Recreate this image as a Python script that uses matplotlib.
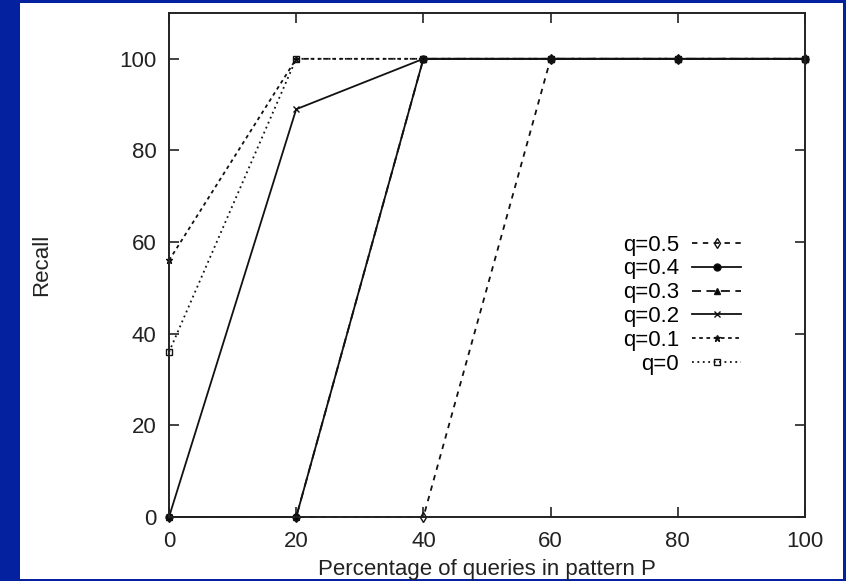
import matplotlib
matplotlib.use("Agg")
import matplotlib.pyplot as plt

# data
pct = [0, 20, 40, 60, 80, 100]
recall_q05 = [0, 0, 0, 100, 100, 100]
recall_q04 = [0, 0, 100, 100, 100, 100]
recall_q03 = [0, 0, 100, 100, 100, 100]
recall_q02 = [0, 89, 100, 100, 100, 100]
recall_q01 = [56, 100, 100, 100, 100, 100]
recall_q0 = [36, 100, 100, 100, 100, 100]

labels = ['q=0.5', 'q=0.4', 'q=0.3', 'q=0.2', 'q=0.1', 'q=0']
series = [recall_q05, recall_q04, recall_q03, recall_q02, recall_q01, recall_q0]
styles = [
    ((0, (3, 3)), 'd', 'none'),
    ('-', 'o', 'k'),
    ((0, (5, 3)), '^', 'k'),
    ('-', 'x', 'k'),
    ((0, (2, 2)), '*', 'k'),
    ((0, (1, 2)), 's', 'none'),
]

plt.rcParams['font.family'] = ['Liberation Sans', 'DejaVu Sans']

fig = plt.figure(figsize=(8.46, 5.81), dpi=100)
fig.patch.set_facecolor('#0422a0')
# white slide panel behind the plot
bg = fig.add_axes([20 / 846, 2 / 581, 823 / 846, 576 / 581], zorder=-5)
bg.set_facecolor('white')
bg.set_xticks([])
bg.set_yticks([])
for s in bg.spines.values():
    s.set_visible(False)

ax = fig.add_axes([169 / 846, 1 - 517 / 581, 636 / 846, 504 / 581])
ax.set_facecolor('white')

for vals, lab, (ls, mk, mfc) in zip(series, labels, styles):
    ax.plot(pct, vals, color='#111111', linestyle=ls, linewidth=1.3,
            marker=mk, markersize=5, markerfacecolor=mfc,
            markeredgecolor='#111111', markeredgewidth=1.0, label=lab,
            clip_on=False)

ax.set_xlim(0, 100)
ax.set_ylim(0, 110)
ax.set_xticks([0, 20, 40, 60, 80, 100])
ax.set_yticks([0, 20, 40, 60, 80, 100])
ax.tick_params(direction='in', length=7, width=1.2, labelsize=16,
               top=True, right=True, colors='#222222')
ax.tick_params(axis='y', pad=9)
ax.tick_params(axis='x', pad=10)
for s in ax.spines.values():
    s.set_linewidth(1.4)
    s.set_color('#222222')

ax.set_xlabel('Percentage of queries in pattern P', fontsize=16,
              labelpad=5, color='#222222')
ax.set_ylabel('Recall', fontsize=16, labelpad=48, color='#222222')

ax.legend(loc='center right', bbox_to_anchor=(0.917, 0.421),
          frameon=False, markerfirst=False, fontsize=16,
          handlelength=2.2, handletextpad=0.6, labelspacing=0.13,
          borderpad=0)

fig.savefig('out.png', dpi=100, facecolor=fig.get_facecolor())
